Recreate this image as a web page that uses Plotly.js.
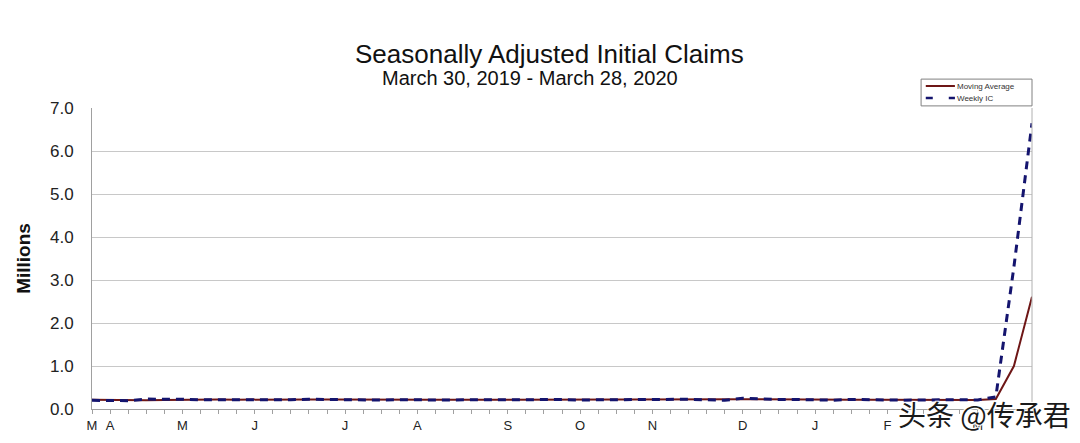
<!DOCTYPE html>
<html>
<head>
<meta charset="utf-8">
<script src="https://cdn.plot.ly/plotly-3.0.1.min.js"></script>
<style>html,body{margin:0;padding:0;background:#fff;}#chart{width:1080px;height:443px;}</style>
</head>
<body>
<div id="chart"></div>
<script>
// Week-ending dates (Saturdays), March 30, 2019 - March 28, 2020
const weeks = [
 '2019-03-30','2019-04-06','2019-04-13','2019-04-20','2019-04-27',
 '2019-05-04','2019-05-11','2019-05-18','2019-05-25',
 '2019-06-01','2019-06-08','2019-06-15','2019-06-22','2019-06-29',
 '2019-07-06','2019-07-13','2019-07-20','2019-07-27',
 '2019-08-03','2019-08-10','2019-08-17','2019-08-24','2019-08-31',
 '2019-09-07','2019-09-14','2019-09-21','2019-09-28',
 '2019-10-05','2019-10-12','2019-10-19','2019-10-26',
 '2019-11-02','2019-11-09','2019-11-16','2019-11-23','2019-11-30',
 '2019-12-07','2019-12-14','2019-12-21','2019-12-28',
 '2020-01-04','2020-01-11','2020-01-18','2020-01-25',
 '2020-02-01','2020-02-08','2020-02-15','2020-02-22','2020-02-29',
 '2020-03-07','2020-03-14','2020-03-21','2020-03-28'
];
// Weekly initial claims, millions
const weeklyIC = [
 0.202,0.196,0.193,0.230,0.230,
 0.228,0.212,0.211,0.215,
 0.218,0.222,0.216,0.227,0.221,
 0.209,0.216,0.206,0.215,
 0.209,0.220,0.209,0.215,0.217,
 0.204,0.208,0.213,0.219,
 0.210,0.214,0.212,0.218,
 0.211,0.225,0.227,0.213,0.203,
 0.252,0.235,0.222,0.222,
 0.214,0.204,0.223,0.216,
 0.202,0.205,0.210,0.219,0.216,
 0.211,0.282,3.307,6.648
];
// 4-week moving average, millions
const movingAvg = [
 0.213,0.207,0.202,0.205,0.212,
 0.220,0.225,0.220,0.217,
 0.214,0.217,0.218,0.221,0.222,
 0.218,0.218,0.213,0.212,
 0.212,0.213,0.213,0.213,0.215,
 0.211,0.211,0.210,0.211,
 0.212,0.214,0.214,0.213,
 0.214,0.217,0.220,0.219,0.217,
 0.224,0.228,0.228,0.233,
 0.223,0.216,0.216,0.214,
 0.211,0.212,0.209,0.209,0.213,
 0.212,0.232,0.998,2.612
];
// Month label positions (first week of each month) and texts
const monthTickDates = ['2019-03-30','2019-04-06','2019-05-04','2019-06-01','2019-07-06','2019-08-03','2019-09-07','2019-10-05','2019-11-02','2019-12-07','2020-01-04','2020-02-01','2020-03-07'];
const monthTickText = ['M','A','M','J','J','A','S','O','N','D','J','F','M'];
const yTicks = [0,1,2,3,4,5,6,7];
const seriesNames = ['Moving Average', 'Weekly IC'];
const seriesColors = ['#6e1616', '#14146e'];

const font = 'Liberation Sans, Arial, sans-serif';

const traces = [
 {x: weeks, y: movingAvg, name: seriesNames[0], type: 'scatter', mode: 'lines',
  line: {color: seriesColors[0], width: 2}},
 {x: weeks, y: weeklyIC, name: seriesNames[1], type: 'scatter', mode: 'lines',
  line: {color: seriesColors[1], width: 3, dash: '8px,6px'}}
];

const layout = {
 width: 1080, height: 443,
 margin: {l: 92, r: 48, t: 108, b: 34},
 paper_bgcolor: '#fff', plot_bgcolor: '#fff',
 font: {family: font, color: '#000'},
 showlegend: false,
 xaxis: {
  type: 'date', range: ['2019-03-30', '2020-03-28'],
  tickmode: 'array', tickvals: monthTickDates, ticktext: monthTickText,
  ticks: 'outside', ticklen: 4, tickcolor: '#a0a0a0',
  minor: {ticks: 'outside', ticklen: 4, tickcolor: '#a0a0a0', dtick: 7*86400000, tick0: '2019-03-30', showgrid: false},
  showgrid: false, showline: true, linecolor: '#a0a0a0', linewidth: 1,
  tickfont: {size: 13, family: font, color: '#222'},
  zeroline: false, fixedrange: true
 },
 yaxis: {
  range: [0, 7], tickmode: 'array', tickvals: yTicks, tickformat: '.1f',
  showgrid: true, gridcolor: '#c8c8c8', gridwidth: 1,
  showline: true, linecolor: '#a0a0a0', mirror: false,
  ticks: '', tickfont: {size: 17, family: font, color: '#222'},
  zeroline: false, ticklabelstandoff: 14,
  title: {text: 'Millions', font: {size: 19, family: font, color: '#111', weight: 'bold'}, standoff: 14}
 },
 shapes: [
  // right frame line
  {type: 'line', xref: 'paper', yref: 'paper', x0: 1, x1: 1, y0: 0, y1: 1, line: {color: '#b0b0b0', width: 1}},
  // legend box
  {type: 'rect', xref: 'paper', yref: 'paper', x0: 0.882, x1: 1.0, y0: 1.007, y1: 1.096, line: {color: '#808080', width: 1}, fillcolor: '#fff'},
  {type: 'line', xref: 'paper', yref: 'paper', x0: 0.887, x1: 0.918, y0: 1.073, y1: 1.073, line: {color: seriesColors[0], width: 2}},
  {type: 'line', xref: 'paper', yref: 'paper', x0: 0.887, x1: 0.918, y0: 1.033, y1: 1.033, line: {color: seriesColors[1], width: 2.5, dash: '7px,16px'}}
 ],
 annotations: [
  {text: 'Seasonally Adjusted Initial Claims', xref: 'paper', yref: 'paper', x: 0.487, y: 1.18, xanchor: 'center', yanchor: 'middle', showarrow: false,
   font: {size: 26, family: font, color: '#111'}},
  {text: 'March 30, 2019 - March 28, 2020', xref: 'paper', yref: 'paper', x: 0.466, y: 1.10, xanchor: 'center', yanchor: 'middle', showarrow: false,
   font: {size: 20, family: font, color: '#111'}},
  {text: seriesNames[0], xref: 'paper', yref: 'paper', x: 0.918, y: 1.073, xanchor: 'left', yanchor: 'middle', showarrow: false,
   font: {size: 8, family: font, color: '#333'}},
  {text: seriesNames[1], xref: 'paper', yref: 'paper', x: 0.918, y: 1.033, xanchor: 'left', yanchor: 'middle', showarrow: false,
   font: {size: 8, family: font, color: '#333'}},
  {text: '头条 @传承君', xref: 'paper', yref: 'paper', x: 0.855, y: -0.015, xanchor: 'left', yanchor: 'middle', showarrow: false,
   font: {size: 28, family: 'Noto Sans CJK SC', color: '#1a1a1a', shadow: '1px 1px 1px #fff, -1px -1px 1px #fff, 1px -1px 1px #fff, -1px 1px 1px #fff'}}
 ]
};

Plotly.newPlot('chart', traces, layout, {displayModeBar: false, staticPlot: true});
</script>
</body>
</html>
